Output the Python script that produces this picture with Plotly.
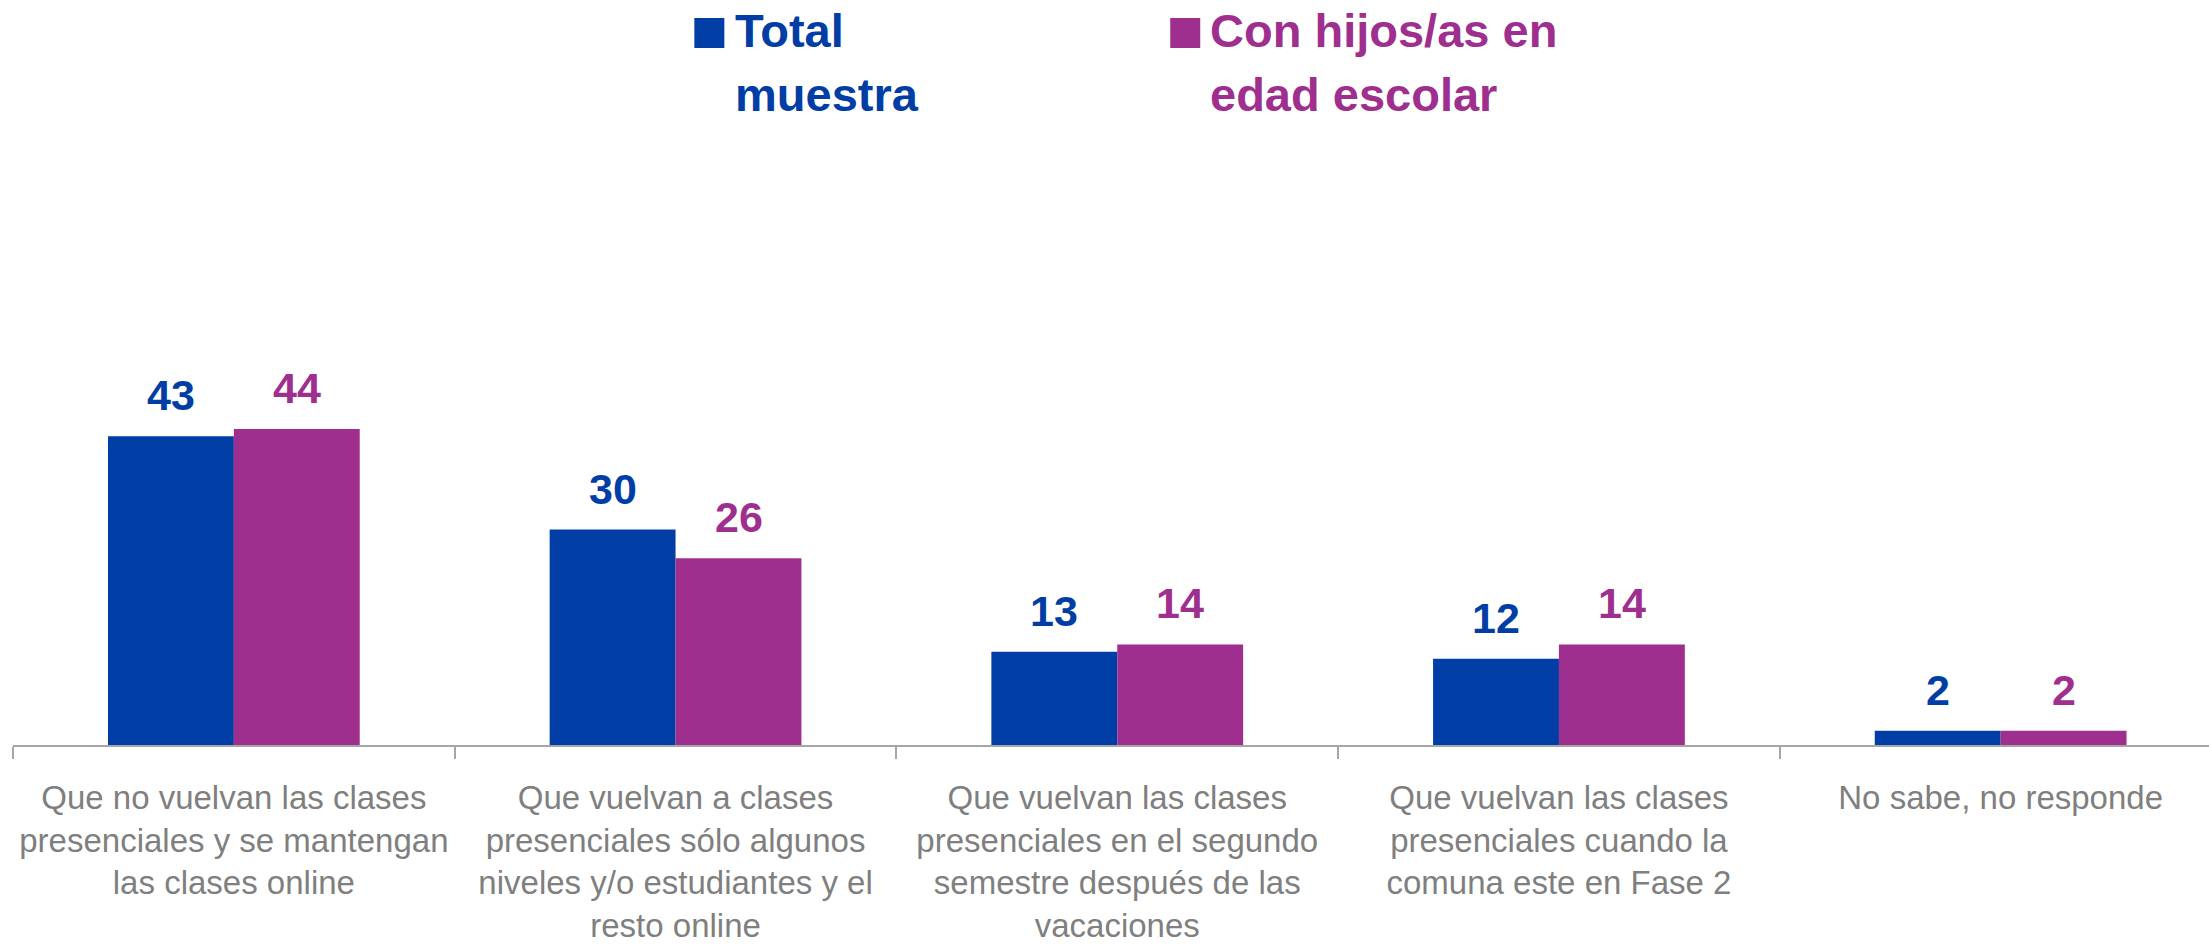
import plotly.graph_objects as go

categories = [
    "Que no vuelvan las clases<br>presenciales y se mantengan<br>las clases online",
    "Que vuelvan a clases<br>presenciales sólo algunos<br>niveles y/o estudiantes y el<br>resto online",
    "Que vuelvan las clases<br>presenciales en el segundo<br>semestre después de las<br>vacaciones",
    "Que vuelvan las clases<br>presenciales cuando la<br>comuna este en Fase 2",
    "No sabe, no responde",
]
total_muestra = [43, 30, 13, 12, 2]
con_hijos = [44, 26, 14, 14, 2]
legend_lines_total = ["Total", "muestra"]
legend_lines_hijos = ["Con hijos/as en", "edad escolar"]

BLUE = "#003EA6"
PURPLE = "#9F2F8E"
GRAY = "#7F7F7F"
FONT = "Liberation Sans, Arial, sans-serif"

W, H = 2209, 944
ML, MR, MT, MB = 12.5, 0, 145, 199
PW = W - ML - MR
PH = H - MT - MB

def px(x):
    return (x - ML) / PW

def py(y):
    return (H - MB - y) / PH

fig = go.Figure()
fig.add_trace(go.Bar(x=categories, y=total_muestra, marker_color=BLUE, name="Total muestra",
                     showlegend=False, marker_line_width=0))
fig.add_trace(go.Bar(x=categories, y=con_hijos, marker_color=PURPLE, name="Con hijos/as en edad escolar",
                     showlegend=False, marker_line_width=0))

annotations = []
for cat, v in zip(categories, total_muestra):
    annotations.append(dict(x=cat, y=v, text=f"<b>{v}</b>", showarrow=False, xshift=-63,
                            yanchor="bottom", yshift=15, font=dict(size=43, color=BLUE, family=FONT)))
for cat, v in zip(categories, con_hijos):
    annotations.append(dict(x=cat, y=v, text=f"<b>{v}</b>", showarrow=False, xshift=63,
                            yanchor="bottom", yshift=15, font=dict(size=43, color=PURPLE, family=FONT)))

# legend (custom, two lines per entry)
for lines, xleft, color in [(legend_lines_total, 733, BLUE), (legend_lines_hijos, 1208, PURPLE)]:
    for i, line in enumerate(lines):
        annotations.append(dict(xref="paper", yref="paper", x=px(xleft), y=py(2 + 64 * i),
                                xanchor="left", yanchor="top", align="left", showarrow=False,
                                text=f"<b>{line}</b>", font=dict(size=47, color=color, family=FONT)))
shapes = [
    dict(type="rect", xref="paper", yref="paper", x0=px(694), x1=px(724), y0=py(48), y1=py(18),
         fillcolor=BLUE, line_width=0),
    dict(type="rect", xref="paper", yref="paper", x0=px(1170), x1=px(1200), y0=py(48), y1=py(18),
         fillcolor=PURPLE, line_width=0),
]

cat_w = 441.8
fig.update_layout(
    width=W, height=H,
    margin=dict(l=ML, r=MR, t=MT, b=MB, pad=0),
    plot_bgcolor="white", paper_bgcolor="white",
    barmode="group", bargap=0.43, bargroupgap=0,
    annotations=annotations, shapes=shapes,
    showlegend=False,
)
fig.update_xaxes(
    range=[-0.5, -0.5 + PW / cat_w],
    showline=True, linecolor="#A6A6A6", linewidth=2,
    ticks="outside", tickson="boundaries", ticklen=12, tickcolor="#A6A6A6", tickwidth=2,
    tickfont=dict(size=33, color=GRAY, family=FONT),
    ticklabelstandoff=22,
    showgrid=False,
)
fig.update_yaxes(range=[0, PH / 7.18], visible=False, showgrid=False)

fig.write_html("out.html", config={"displayModeBar": False},
               post_script="document.body.style.margin='0';")
